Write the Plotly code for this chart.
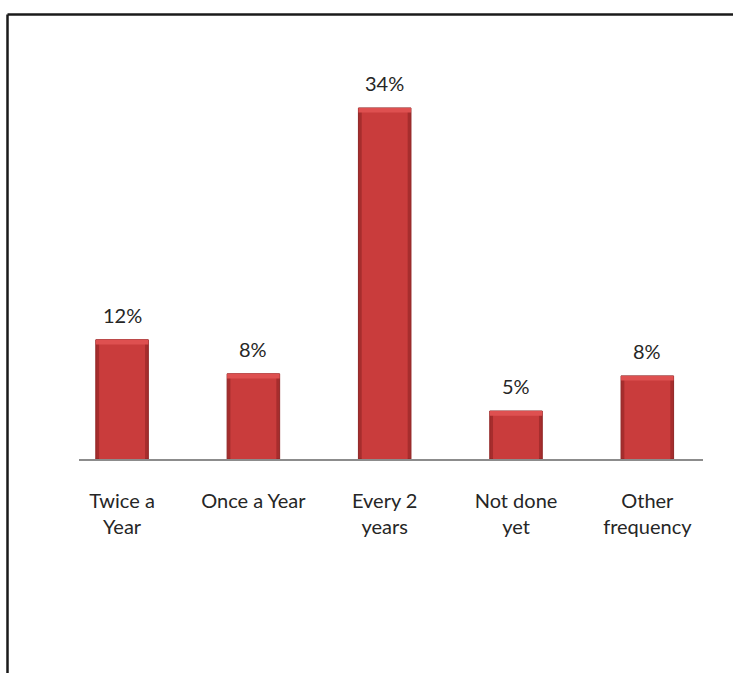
import plotly.graph_objects as go

categories = ["Twice a<br>Year", "Once a Year", "Every 2<br>years", "Not done<br>yet", "Other<br>frequency"]
values = [11.55, 8.25, 34.0, 4.65, 8.05]
labels = ["12%", "8%", "34%", "5%", "8%"]

W, H = 733, 673
ML, MR, MT, MB = 79, 30, 46, 214
plot_w = W - ML - MR
plot_h = H - MT - MB
Y_MAX = 40
bevel = 0.45  # bevel depth in axis units (styling)

def px_to_paper_x(px):
    return (px - ML) / plot_w

def py_to_paper_y(py):
    return (H - MB - py) / plot_h

fig = go.Figure()
# outer (dark edges)
fig.add_trace(go.Bar(
    x=categories, y=values, width=0.40,
    marker=dict(color="#A62D2D", line=dict(color="#902525", width=1)),
    hoverinfo="skip", showlegend=False,
))
# body
fig.add_trace(go.Bar(
    x=categories, y=values, width=0.35,
    marker=dict(color="#C93C3C", line=dict(width=0)),
    hoverinfo="skip", showlegend=False,
))
# top bevel highlight
fig.add_trace(go.Bar(
    x=categories, y=[bevel] * len(values), base=[v - bevel for v in values], width=0.40,
    marker=dict(color="#DE5050", line=dict(width=0)),
    hoverinfo="skip", showlegend=False,
))

font_family = "Lato, Open Sans, sans-serif"
for c, v, t in zip(categories, values, labels):
    fig.add_annotation(x=c, y=v, text=t, showarrow=False, yanchor="bottom",
                       yshift=11, font=dict(family=font_family, size=20, color="#262626"))

fig.update_layout(
    width=W, height=H,
    margin=dict(l=ML, r=MR, t=MT, b=MB),
    paper_bgcolor="white", plot_bgcolor="white",
    barmode="overlay",
    xaxis=dict(type="category", range=[-0.328, 4.424], showline=True, linecolor="#8C8C8C", linewidth=1.5,
               showgrid=False, zeroline=False, ticks="", ticklabelstandoff=23,
               tickfont=dict(family=font_family, size=20, color="#262626")),
    yaxis=dict(range=[0, Y_MAX], visible=False, showgrid=False, zeroline=False),
    shapes=[
        dict(type="line", xref="paper", yref="paper",
             x0=px_to_paper_x(7.5), x1=px_to_paper_x(740), y0=py_to_paper_y(14.5), y1=py_to_paper_y(14.5),
             line=dict(color="#1A1A1A", width=2.5)),
        dict(type="line", xref="paper", yref="paper",
             x0=px_to_paper_x(7.5), x1=px_to_paper_x(7.5), y0=py_to_paper_y(14.5), y1=py_to_paper_y(680),
             line=dict(color="#1A1A1A", width=2.5)),
    ],
)

fig.write_html("out.html", config={"displayModeBar": False},
               post_script="document.body.style.margin='0';document.body.style.overflow='hidden';")
